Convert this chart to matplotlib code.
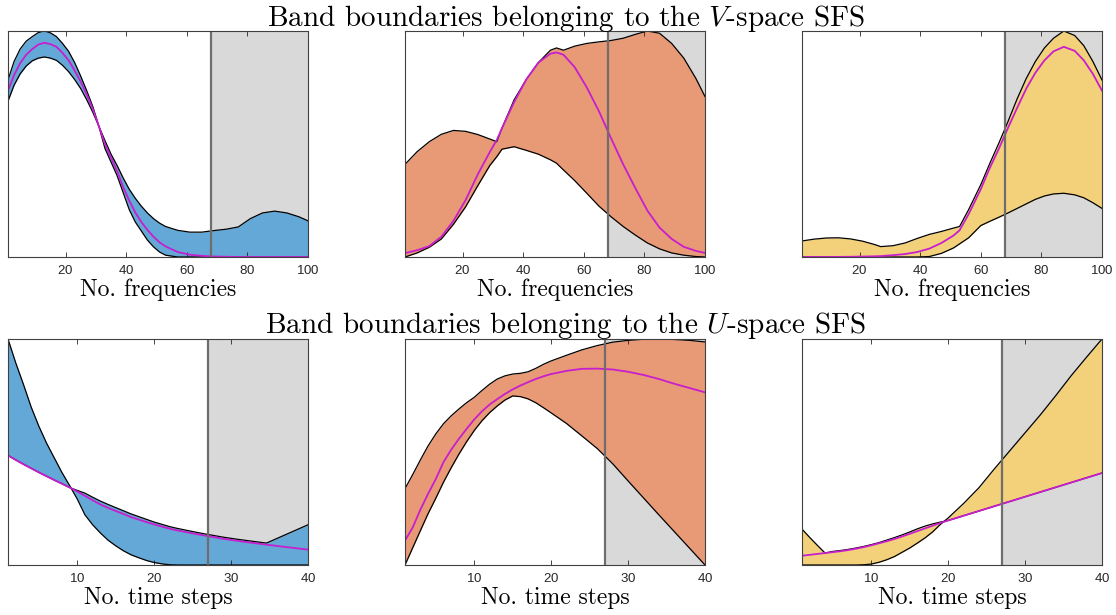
import matplotlib
matplotlib.use("Agg")
import matplotlib.pyplot as plt
import numpy as np

plt.rcParams["font.family"] = "serif"
plt.rcParams["font.serif"] = ["cmr10"]
plt.rcParams["mathtext.fontset"] = "cm"
plt.rcParams["axes.unicode_minus"] = False
plt.rcParams["axes.formatter.use_mathtext"] = True

# band boundaries (normalised), V-space SFS, frequency index
f1_x = [1, 3, 5, 7, 9, 11, 13, 15, 17, 19, 21, 23, 25, 27, 29, 31, 33, 35, 37,
        39, 41, 43, 45, 47, 49, 51, 53, 57, 61, 65, 69, 73, 77, 81, 85, 89, 93,
        97, 100]
f1_hi = [0.783, 0.865, 0.92, 0.955, 0.975, 0.993, 1.0, 0.992, 0.975, 0.945, 0.91,
         0.86, 0.80, 0.735, 0.665, 0.578, 0.515, 0.455, 0.405, 0.35, 0.30, 0.26,
         0.225, 0.195, 0.17, 0.15, 0.135, 0.118, 0.11, 0.11, 0.117, 0.123, 0.133,
         0.17, 0.195, 0.203, 0.195, 0.178, 0.16]
f1_lo = [0.69, 0.76, 0.81, 0.845, 0.868, 0.88, 0.885, 0.88, 0.87, 0.848, 0.82,
         0.785, 0.745, 0.695, 0.64, 0.578, 0.48, 0.42, 0.36, 0.285, 0.21, 0.155,
         0.115, 0.075, 0.045, 0.022, 0.008, 0, 0, 0, 0, 0, 0, 0, 0, 0, 0, 0, 0]
f1_ref = [0.736, 0.805, 0.857, 0.895, 0.92, 0.94, 0.948, 0.942, 0.93, 0.903, 0.87,
          0.825, 0.775, 0.718, 0.655, 0.578, 0.50, 0.44, 0.38, 0.31, 0.25, 0.197,
          0.155, 0.12, 0.09, 0.065, 0.047, 0.022, 0.01, 0.005, 0.002, 0.001, 0,
          0, 0, 0, 0, 0, 0]

f2_x = [1, 5, 9, 13, 17, 21, 25, 29, 31.3, 33, 37, 41, 45, 49, 51, 53.3, 57, 61,
        65, 69, 73, 77, 81, 85, 89, 93, 97, 100]
f2_hi = [0.41, 0.466, 0.51, 0.543, 0.56, 0.556, 0.542, 0.522, 0.51, 0.57, 0.695,
         0.785, 0.86, 0.915, 0.925, 0.915, 0.933, 0.945, 0.952, 0.958, 0.968,
         0.985, 1.0, 0.99, 0.945, 0.88, 0.79, 0.71]
f2_lo = [0.0, 0.018, 0.043, 0.08, 0.145, 0.222, 0.315, 0.405, 0.444, 0.477,
         0.488, 0.472, 0.455, 0.43, 0.415, 0.385, 0.338, 0.282, 0.225, 0.178,
         0.135, 0.097, 0.062, 0.036, 0.018, 0.008, 0.002, 0.0]
f2_ref = [0.017, 0.03, 0.048, 0.09, 0.16, 0.252, 0.365, 0.465, 0.518, 0.57, 0.685,
          0.785, 0.86, 0.9, 0.905, 0.895, 0.84, 0.75, 0.645, 0.525, 0.41, 0.305,
          0.205, 0.13, 0.08, 0.045, 0.027, 0.018]

f3_x = [1, 5, 9, 13, 17, 21, 25, 27, 31, 35, 39, 43, 47, 51, 53, 56, 60, 63, 66,
        69, 72, 75, 78, 81, 84, 87.4, 91, 94, 97, 100]
f3_hi = [0.071, 0.079, 0.084, 0.085, 0.08, 0.07, 0.055, 0.046, 0.05, 0.062, 0.082,
         0.1, 0.113, 0.128, 0.135, 0.21, 0.32, 0.415, 0.505, 0.6, 0.7, 0.79, 0.865,
         0.925, 0.968, 1.0, 0.98, 0.935, 0.865, 0.783]
f3_lo = [0, 0, 0, 0, 0, 0, 0, 0, 0, 0, 0, 0.002, 0.016, 0.04, 0.058, 0.085, 0.139,
         0.158, 0.176, 0.195, 0.215, 0.235, 0.255, 0.27, 0.279, 0.282, 0.275,
         0.262, 0.24, 0.215]
f3_ref = [0, 0, 0, 0.0005, 0.001, 0.002, 0.003, 0.004, 0.008, 0.013, 0.022, 0.037,
          0.062, 0.095, 0.118, 0.19, 0.30, 0.395, 0.48, 0.572, 0.66, 0.745, 0.815,
          0.87, 0.91, 0.93, 0.912, 0.87, 0.81, 0.736]

# U-space SFS, time index
t1_x = [1, 2, 3, 4, 5, 6, 7, 8, 9, 10, 11, 12, 13, 14, 15, 16, 17, 18, 19, 20,
        21, 22, 23, 25, 27, 29, 31, 33, 34.6, 37, 40]
t1_a = [1.0, 0.895, 0.80, 0.70, 0.615, 0.54, 0.475, 0.41, 0.352, 0.292, 0.222,
        0.178, 0.142, 0.11, 0.085, 0.063, 0.045, 0.032, 0.02, 0.011, 0.005, 0.001,
        0, 0, 0, 0, 0, 0, 0, 0, 0]
t1_b = [0.485, 0.465, 0.446, 0.428, 0.41, 0.393, 0.376, 0.36, 0.343, 0.33, 0.318,
        0.30, 0.283, 0.268, 0.254, 0.24, 0.226, 0.214, 0.202, 0.19, 0.18, 0.17,
        0.162, 0.148, 0.135, 0.123, 0.113, 0.104, 0.097, 0.133, 0.178]
t1_ref = [0.485, 0.465, 0.446, 0.428, 0.41, 0.393, 0.376, 0.36, 0.343, 0.325,
          0.306, 0.287, 0.268, 0.253, 0.239, 0.226, 0.212, 0.201, 0.19, 0.18,
          0.17, 0.161, 0.153, 0.14, 0.128, 0.116, 0.106, 0.097, 0.09, 0.08, 0.068]

t2_x = [1, 2, 3, 4, 5, 6, 7, 8, 9, 10, 11, 12, 13, 14, 15, 16, 17, 18, 19, 20,
        22, 24, 26, 28, 30, 32, 34, 36, 38, 40]
t2_hi = [0.338, 0.40, 0.465, 0.527, 0.58, 0.625, 0.66, 0.69, 0.718, 0.742, 0.772,
         0.80, 0.823, 0.837, 0.845, 0.848, 0.855, 0.87, 0.888, 0.903, 0.928, 0.952,
         0.971, 0.986, 0.994, 0.999, 1.0, 0.998, 0.994, 0.987]
t2_lo = [0.0, 0.076, 0.152, 0.227, 0.295, 0.366, 0.43, 0.49, 0.545, 0.595, 0.638,
         0.674, 0.704, 0.73, 0.748, 0.745, 0.735, 0.718, 0.696, 0.673, 0.626,
         0.571, 0.515, 0.448, 0.372, 0.297, 0.222, 0.148, 0.074, 0.0]
t2_ref = [0.108, 0.166, 0.245, 0.315, 0.38, 0.455, 0.51, 0.558, 0.602, 0.644,
          0.68, 0.71, 0.734, 0.757, 0.777, 0.794, 0.809, 0.823, 0.835, 0.845,
          0.859, 0.868, 0.869, 0.865, 0.855, 0.841, 0.823, 0.802, 0.783, 0.764]

t3_x = [1, 2, 3, 4, 5, 6, 7, 8, 9, 10, 11, 12, 13, 14, 15, 16, 17, 18, 19, 20,
        22, 24, 26, 28, 30, 32, 34, 36, 38, 40]
t3_a = [0.159, 0.122, 0.087, 0.053, 0.06, 0.064, 0.069, 0.075, 0.082, 0.09, 0.099,
        0.11, 0.121, 0.133, 0.146, 0.16, 0.172, 0.182, 0.19, 0.197, 0.218, 0.239,
        0.26, 0.281, 0.302, 0.323, 0.344, 0.365, 0.386, 0.407]
t3_b = [0, 0, 0, 0, 0, 0, 0, 0, 0.001, 0.004, 0.012, 0.023, 0.037, 0.056, 0.075,
        0.097, 0.12, 0.147, 0.18, 0.208, 0.272, 0.342, 0.425, 0.505, 0.585, 0.665,
        0.75, 0.838, 0.92, 1.0]
t3_ref = [0.041, 0.045, 0.049, 0.053, 0.057, 0.061, 0.066, 0.072, 0.079, 0.087,
          0.096, 0.105, 0.115, 0.126, 0.138, 0.15, 0.162, 0.174, 0.186, 0.197,
          0.218, 0.239, 0.26, 0.281, 0.302, 0.323, 0.344, 0.365, 0.386, 0.407]

band_colors = ["#63A8D6", "#E89976", "#F3D07A"]
shade_color = "#D9D9D9"
ref_color = "#C71ECE"


def panel(ax, x, c1, c2, ref, color, xmax, cut, ticks, xlabel):
    ax.axvspan(cut, xmax, color=shade_color, lw=0, zorder=0)
    ax.fill_between(x, c1, c2, color=color, lw=0, zorder=1)
    ax.plot(x, c1, color="black", lw=0.9, zorder=2)
    ax.plot(x, c2, color="black", lw=0.9, zorder=2)
    ax.plot(x, ref, color=ref_color, lw=1.3, zorder=3)
    ax.axvline(cut, color="#6E6E6E", lw=1.6, zorder=4)
    ax.set_xlim(1, xmax)
    ax.set_ylim(0, 1)
    ax.set_yticks([])
    ax.set_xticks(ticks)
    ax.tick_params(axis="x", direction="in", top=True, length=3.5, width=0.6,
                   color="#262626", labelcolor="#262626", pad=5)
    for lab in ax.get_xticklabels():
        lab.set_fontfamily("Liberation Sans")
        lab.set_fontsize(9.5)
    for sp in ax.spines.values():
        sp.set_color("#404040")
        sp.set_linewidth(0.8)
        sp.set_zorder(5)
    ax.set_xlabel(xlabel, fontsize=17, va="baseline")
    ax.xaxis.set_label_coords(0.5, -39 / 226)


fig = plt.figure(figsize=(11.16, 6.15), dpi=100)
W, H = 1116, 615
lefts = [8, 405, 802]
tops = [31, 339]

top_row = [(f1_x, f1_hi, f1_lo, f1_ref), (f2_x, f2_hi, f2_lo, f2_ref),
           (f3_x, f3_hi, f3_lo, f3_ref)]
bottom_row = [(t1_x, t1_a, t1_b, t1_ref), (t2_x, t2_hi, t2_lo, t2_ref),
              (t3_x, t3_a, t3_b, t3_ref)]

for i, (x, c1, c2, ref) in enumerate(top_row):
    ax = fig.add_axes([lefts[i] / W, 1 - (tops[0] + 226) / H, 300 / W, 226 / H])
    panel(ax, x, c1, c2, ref, band_colors[i], 100, 68, [20, 40, 60, 80, 100],
          "No. frequencies")

for i, (x, c1, c2, ref) in enumerate(bottom_row):
    ax = fig.add_axes([lefts[i] / W, 1 - (tops[1] + 226) / H, 300 / W, 226 / H])
    panel(ax, x, c1, c2, ref, band_colors[i], 40, 27, [10, 20, 30, 40],
          "No. time steps")

fig.text(566 / W, 1 - 26 / H, r"Band boundaries belonging to the $V$-space SFS",
         ha="center", va="baseline", fontsize=21)
fig.text(566 / W, 1 - 333 / H, r"Band boundaries belonging to the $U$-space SFS",
         ha="center", va="baseline", fontsize=21)

fig.savefig("out.png", dpi=100)
